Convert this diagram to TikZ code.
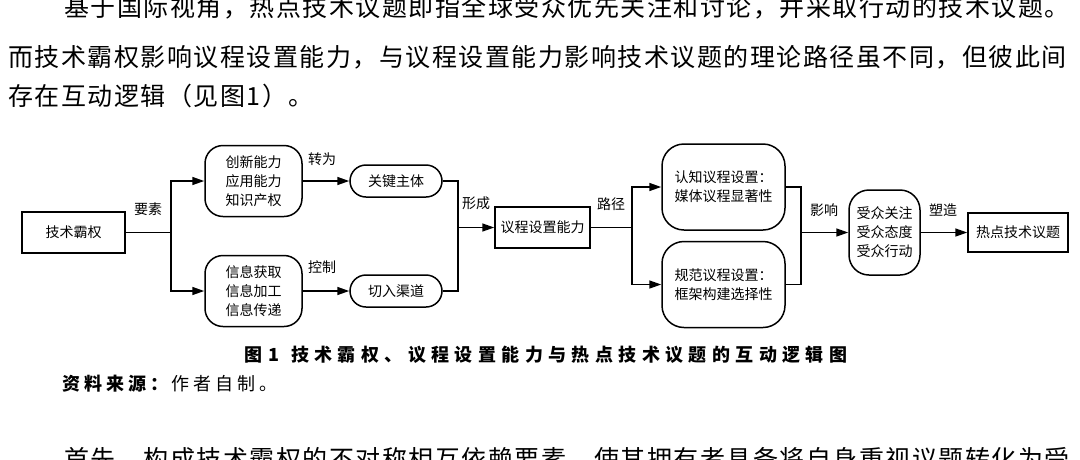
\documentclass[tikz,border=0pt]{standalone}
\usepackage{fontspec}
\setmainfont{Noto Sans CJK SC}
\newfontfamily\bodyfont[LetterSpace=6]{Noto Sans CJK SC}
\newfontfamily\capfont[LetterSpace=30]{Noto Sans CJK SC}
\newfontfamily\srcfont[LetterSpace=22]{Noto Sans CJK SC}
\usetikzlibrary{arrows.meta,positioning}

\tikzset{
    dnode/.style={draw,line width=1.5pt,inner sep=0pt,align=center,
        font={\fontsize{14}{19}\selectfont}},
    sqbox/.style={dnode},
    rbox/.style={dnode,rounded corners=#1},
    lab/.style={font={\fontsize{14}{19}\selectfont}},
    arr/.style={line width=1.5pt,-{Triangle[length=12pt,width=8pt]}},
    ln/.style={line width=1.5pt},
    body/.style={anchor=west,inner sep=0pt,font={\bodyfont\fontsize{25}{30}\selectfont}}
}

\begin{document}
\begin{tikzpicture}[x=1pt,y=-1pt]
    \useasboundingbox (0,0) rectangle (1080,459);
    \clip (0,0) rectangle (1080,459);

    % body text
    \node[body] (p1) at (64,7) {基于国际视角，热点技术议题即指全球受众优先关注和讨论，并采取行动的技术议题。};
    \node[body] (p2) at (8,57) {而技术霸权影响议程设置能力，与议程设置能力影响技术议题的理论路径虽不同，但彼此间};
    \node[body] (p3) at (8,96) {存在互动逻辑（见图1）。};
    \node[body] (p4) at (64,459) {首先，构成技术霸权的不对称相互依赖要素，使其拥有者具备将自身重视议题转化为受};

    % diagram
    \node[sqbox,minimum width=103pt,minimum height=41pt] (heg) at (73.5,232.5) {技术霸权};
    \node[rbox=18pt,minimum width=97pt,minimum height=71pt] (innov) at (253.5,181) {创新能力\\应用能力\\知识产权};
    \node[rbox=18pt,minimum width=97pt,minimum height=71pt] (info) at (253.5,291) {信息获取\\信息加工\\信息传递};
    \node[rbox=16pt,minimum width=92pt,minimum height=32pt] (actor) at (396,181) {关键主体};
    \node[rbox=16pt,minimum width=92pt,minimum height=32pt] (chan) at (396,291) {切入渠道};
    \node[sqbox,minimum width=95pt,minimum height=41pt] (agenda) at (542.5,227.5) {议程设置能力};
    \node[rbox=22pt,minimum width=123pt,minimum height=86pt] (cogn) at (723.5,187) {认知议程设置：\\媒体议程显著性};
    \node[rbox=22pt,minimum width=123pt,minimum height=86pt] (norm) at (723.5,284.5) {规范议程设置：\\框架构建选择性};
    \node[rbox=20pt,minimum width=71pt,minimum height=85pt] (aud) at (884.5,232.5) {受众关注\\受众态度\\受众行动};
    \node[sqbox,minimum width=100pt,minimum height=39pt] (hot) at (1018,232.5) {热点技术议题};

    \coordinate (s1) at (171,232.5);
    \coordinate (m1) at (458,227.5);
    \coordinate (s2) at (632,227.5);
    \coordinate (m2) at (801,232.5);

    \draw[ln] (heg.east) -- (s1);
    \draw[arr] (s1) |- (innov.west);
    \draw[arr] (s1) |- (info.west);
    \draw[arr] (innov.east) -- (actor.west);
    \draw[arr] (info.east) -- (chan.west);
    \draw[ln] (actor.east) -| (m1);
    \draw[ln] (chan.east) -| (m1);
    \draw[arr] (m1) -- (agenda.west);
    \draw[ln] (agenda.east) -- (s2);
    \draw[arr] (s2) |- (cogn.west);
    \draw[arr] (s2) |- (norm.west);
    \draw[ln] (cogn.east) -| (m2);
    \draw[ln] (norm.east) -| (m2);
    \draw[arr] (m2) -- (aud.west);
    \draw[arr] (aud.east) -- (hot.west);

    \node[lab] (l1) at (148,209) {要素};
    \node[lab] (l2) at (322,159) {转为};
    \node[lab] (l3) at (322,267) {控制};
    \node[lab] (l4) at (476,203) {形成};
    \node[lab] (l5) at (611,204) {路径};
    \node[lab] (l6) at (824,210) {影响};
    \node[lab] (l7) at (943,210) {塑造};

    % caption
    \node[font={\capfont\bfseries\fontsize{18}{22}\selectfont}] (cap) at (546,355) {图1\hspace{12pt}技术霸权、议程设置能力与热点技术议题的互动逻辑图};
    \node[anchor=west,inner sep=0pt,font={\srcfont\fontsize{18}{22}\selectfont}] (src) at (62,384) {\textbf{资料来源：}作者自制。};
\end{tikzpicture}
\end{document}
